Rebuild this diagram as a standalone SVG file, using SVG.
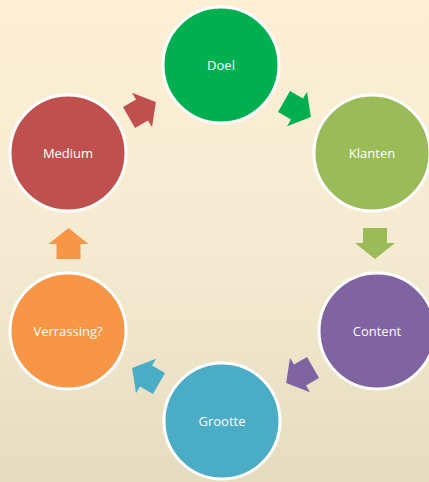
<svg xmlns="http://www.w3.org/2000/svg" width="429" height="482" viewBox="0 0 429 482">
<defs>
<linearGradient id="bg" x1="0" y1="0" x2="0" y2="1">
<stop offset="0" stop-color="#FDEFD5"/>
<stop offset="0.5" stop-color="#F5EBD2"/>
<stop offset="1" stop-color="#E5DCBF"/>
</linearGradient>
<polygon id="arr" points="-15,-12 0,-12 0,-20 16,0 0,20 0,12 -15,12"/>
</defs>
<style>
.node circle{stroke:#FFFFFF;stroke-width:3}
.node text{font-family:"Open Sans","Noto Sans","Liberation Sans",sans-serif;font-size:13px;fill:#FFFFFF;text-anchor:middle;dominant-baseline:central}
</style>
<rect width="429" height="482" fill="url(#bg)"/>
<g id="connectors">
<use href="#arr" fill="#00B050" transform="translate(297,109) rotate(30)"/>
<use href="#arr" fill="#9BBB59" transform="translate(375,243) rotate(90)"/>
<use href="#arr" fill="#8064A2" transform="translate(300,375) rotate(150)"/>
<use href="#arr" fill="#4BACC6" transform="translate(146,376) rotate(210)"/>
<use href="#arr" fill="#F79646" transform="translate(68.5,244) rotate(-90)"/>
<use href="#arr" fill="#C0504D" transform="translate(142,110) rotate(-30)"/>
</g>
<g id="doel" class="node"><circle cx="221" cy="65" r="58" fill="#00B050"/><text x="221" y="65">Doel</text></g>
<g id="klanten" class="node"><circle cx="372" cy="153" r="58" fill="#9BBB59"/><text x="372" y="153">Klanten</text></g>
<g id="content" class="node"><circle cx="377" cy="331" r="58" fill="#8064A2"/><text x="377" y="331">Content</text></g>
<g id="grootte" class="node"><circle cx="222" cy="421" r="58" fill="#4BACC6"/><text x="222" y="421">Grootte</text></g>
<g id="verrassing" class="node"><circle cx="68" cy="331" r="58" fill="#F79646"/><text x="68" y="331">Verrassing?</text></g>
<g id="medium" class="node"><circle cx="68" cy="153" r="58" fill="#C0504D"/><text x="68" y="153">Medium</text></g>
</svg>
